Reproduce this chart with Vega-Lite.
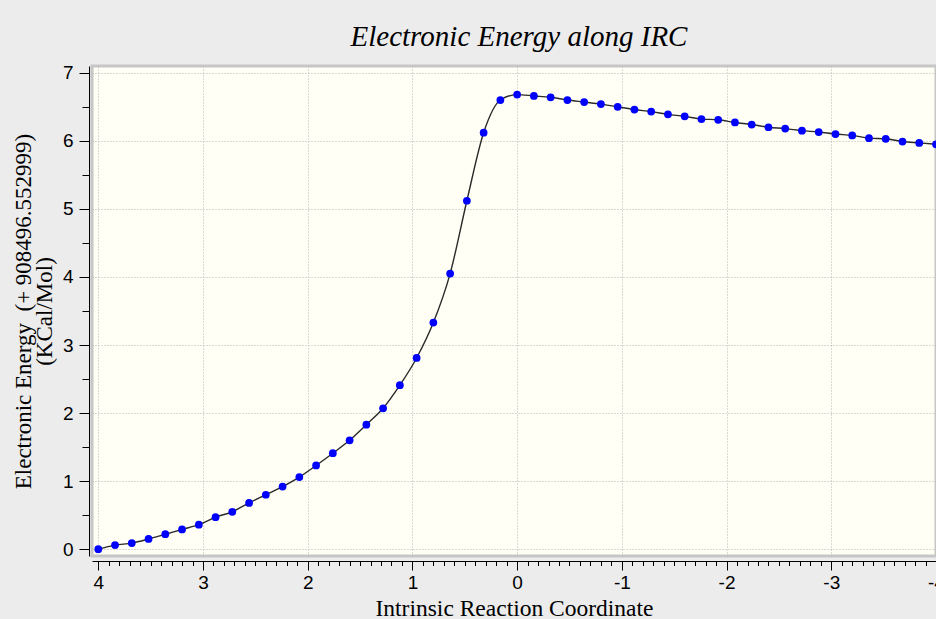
{
  "$schema": "https://vega.github.io/schema/vega-lite/v6.json",
  "width": 844,
  "height": 490,
  "autosize": {"type": "none"},
  "padding": {"left": 92, "top": 66, "right": 0, "bottom": 63},
  "background": "#ececec",
  "title": {
    "text": "Electronic Energy along IRC",
    "font": "Liberation Serif",
    "fontStyle": "italic",
    "fontSize": 29,
    "fontWeight": "normal",
    "color": "#000000",
    "anchor": "middle",
    "baseline": "alphabetic",
    "offset": 19,
    "dy": 30,
    "dx": 5
  },
  "config": {
    "view": {"fill": "#fffff5", "stroke": "#c6c6c6", "strokeWidth": 3}
  },
  "data": {
    "values": [
      {"irc": 4.00, "energy": 0.00},
      {"irc": 3.84, "energy": 0.06},
      {"irc": 3.68, "energy": 0.09},
      {"irc": 3.52, "energy": 0.15},
      {"irc": 3.36, "energy": 0.22},
      {"irc": 3.20, "energy": 0.29},
      {"irc": 3.04, "energy": 0.36},
      {"irc": 2.88, "energy": 0.47},
      {"irc": 2.72, "energy": 0.55},
      {"irc": 2.56, "energy": 0.68},
      {"irc": 2.40, "energy": 0.80},
      {"irc": 2.24, "energy": 0.92},
      {"irc": 2.08, "energy": 1.06},
      {"irc": 1.92, "energy": 1.23},
      {"irc": 1.76, "energy": 1.41},
      {"irc": 1.60, "energy": 1.60},
      {"irc": 1.44, "energy": 1.83},
      {"irc": 1.28, "energy": 2.07},
      {"irc": 1.12, "energy": 2.41},
      {"irc": 0.96, "energy": 2.81},
      {"irc": 0.80, "energy": 3.33},
      {"irc": 0.64, "energy": 4.05},
      {"irc": 0.48, "energy": 5.12},
      {"irc": 0.32, "energy": 6.12},
      {"irc": 0.16, "energy": 6.60},
      {"irc": 0.00, "energy": 6.68},
      {"irc": -0.16, "energy": 6.66},
      {"irc": -0.32, "energy": 6.64},
      {"irc": -0.48, "energy": 6.60},
      {"irc": -0.64, "energy": 6.57},
      {"irc": -0.80, "energy": 6.54},
      {"irc": -0.96, "energy": 6.50},
      {"irc": -1.12, "energy": 6.46},
      {"irc": -1.28, "energy": 6.43},
      {"irc": -1.44, "energy": 6.39},
      {"irc": -1.60, "energy": 6.36},
      {"irc": -1.76, "energy": 6.32},
      {"irc": -1.92, "energy": 6.31},
      {"irc": -2.08, "energy": 6.27},
      {"irc": -2.24, "energy": 6.24},
      {"irc": -2.40, "energy": 6.20},
      {"irc": -2.56, "energy": 6.18},
      {"irc": -2.72, "energy": 6.15},
      {"irc": -2.88, "energy": 6.13},
      {"irc": -3.04, "energy": 6.10},
      {"irc": -3.20, "energy": 6.08},
      {"irc": -3.36, "energy": 6.04},
      {"irc": -3.52, "energy": 6.03},
      {"irc": -3.68, "energy": 5.99},
      {"irc": -3.84, "energy": 5.97},
      {"irc": -4.00, "energy": 5.95}
    ]
  },
  "encoding": {
    "x": {
      "field": "irc",
      "type": "quantitative",
      "scale": {"domain": [-4.0, 4.06], "reverse": true, "nice": false, "zero": false},
      "axis": {
        "orient": "bottom",
        "offset": 5,
        "values": [-4,-3.9,-3.8,-3.7,-3.6,-3.5,-3.4,-3.3,-3.2,-3.1,-3,-2.9,-2.8,-2.7,-2.6,-2.5,-2.4,-2.3,-2.2,-2.1,-2,-1.9,-1.8,-1.7,-1.6,-1.5,-1.4,-1.3,-1.2,-1.1,-1,-0.9,-0.8,-0.7,-0.6,-0.5,-0.4,-0.3,-0.2,-0.1,0,0.1,0.2,0.3,0.4,0.5,0.6,0.7,0.8,0.9,1,1.1,1.2,1.3,1.4,1.5,1.6,1.7,1.8,1.9,2,2.1,2.2,2.3,2.4,2.5,2.6,2.7,2.8,2.9,3,3.1,3.2,3.3,3.4,3.5,3.6,3.7,3.8,3.9,4],
        "title": "Intrinsic Reaction Coordinate",
        "titleFont": "Liberation Serif",
        "titleFontSize": 23.5,
        "titleFontWeight": "normal",
        "titleColor": "#000000",
        "titleY": 54,
        "titleBaseline": "alphabetic",
        "labelFont": "Liberation Sans",
        "labelFontSize": 19,
        "labelColor": "#000000",
        "labelPadding": 3,
        "labelOverlap": false,
        "labelFlush": false,
        "labelExpr": "abs(datum.value - round(datum.value)) < 0.001 ? '' + round(datum.value) : ''",
        "tickSize": {"condition": {"test": "abs(datum.value - round(datum.value)) < 0.001", "value": 9}, "value": 4.5},
        "tickColor": "#000000",
        "domainColor": "#000000",
        "grid": true,
        "gridColor": "#b4b4b4",
        "gridDash": [1, 2],
        "gridOpacity": {"condition": {"test": "abs(datum.value - round(datum.value)) < 0.001", "value": 1}, "value": 0}
      }
    },
    "y": {
      "field": "energy",
      "type": "quantitative",
      "scale": {"domain": [-0.1, 7.1], "nice": false, "zero": false},
      "axis": {
        "orient": "left",
        "offset": 3,
        "values": [0,0.5,1,1.5,2,2.5,3,3.5,4,4.5,5,5.5,6,6.5,7],
        "title": ["Electronic Energy \u00a0(+ 908496.552999)", "(KCal/Mol)"],
        "titleFont": "Liberation Serif",
        "titleFontSize": 23,
        "titleFontWeight": "normal",
        "titleColor": "#000000",
        "titleX": -59,
        "titleBaseline": "alphabetic",
        "titleLineHeight": 21,
        "titleAlign": "center",
        "labelFont": "Liberation Sans",
        "labelFontSize": 19,
        "labelColor": "#000000",
        "labelPadding": 6,
        "labelOverlap": false,
        "labelFlush": false,
        "labelExpr": "abs(datum.value - round(datum.value)) < 0.001 ? '' + round(datum.value) : ''",
        "tickSize": {"condition": {"test": "abs(datum.value - round(datum.value)) < 0.001", "value": 10}, "value": 7},
        "tickColor": "#000000",
        "domainColor": "#000000",
        "grid": true,
        "gridColor": "#b4b4b4",
        "gridDash": [1, 2],
        "gridOpacity": {"condition": {"test": "abs(datum.value - round(datum.value)) < 0.001", "value": 1}, "value": 0}
      }
    }
  },
  "layer": [
    {"mark": {"type": "line", "interpolate": "monotone", "color": "#2a2a2a", "strokeWidth": 1.4, "clip": true}},
    {"mark": {"type": "point", "filled": true, "color": "#0000ff", "size": 60, "opacity": 1, "clip": true}}
  ]
}
